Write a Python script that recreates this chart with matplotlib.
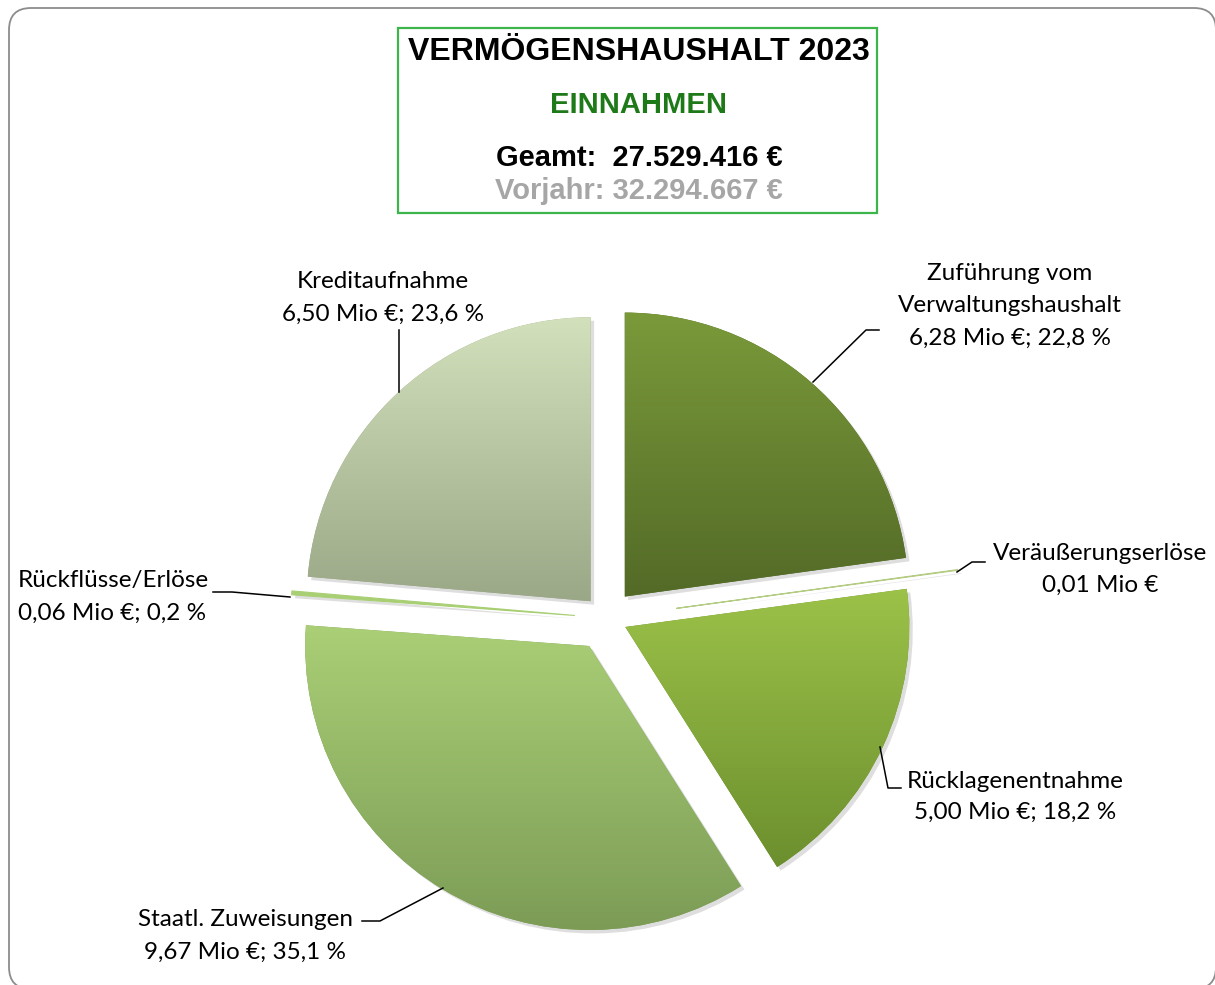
import matplotlib
matplotlib.use("Agg")
import matplotlib.pyplot as plt
import numpy as np
from matplotlib.patches import FancyBboxPatch, Rectangle
from matplotlib import patheffects as pe
from matplotlib.colors import to_rgb

# ---------------- data ----------------
categories = ["Zuführung vom\nVerwaltungshaushalt", "Veräußerungserlöse", "Rücklagenentnahme",
              "Staatl. Zuweisungen", "Rückflüsse/Erlöse", "Kreditaufnahme"]
values_mio = [6.28, 0.01, 5.00, 9.67, 0.06, 6.50]
show_pct = [True, False, True, True, True, True]
title = "VERMÖGENSHAUSHALT 2023"
subtitle = "EINNAHMEN"
total_text = "Geamt:  27.529.416 €"
prev_text = "Vorjahr: 32.294.667 €"

# styles
explode = [0.10, 0.25, 0.075, 0.115, 0.11, 0.08]
grad_top = ["#7A9A3A", "#B5CC85", "#9CC249", "#AACF76", "#A9CF74", "#D3E0BC"]
grad_bot = ["#536A27", "#B5CC85", "#6C8F2E", "#7C9C56", "#A9CF74", "#9AA887"]

W, H = 1215, 985
fig = plt.figure(figsize=(W / 100, H / 100), dpi=100)

# pie axes: radius 1 = 284 px
cx, cy, R = 606, 618, 284
ax = fig.add_axes([0, 0, 1, 1])
total = sum(values_mio)
wedges, _ = ax.pie(values_mio, explode=explode, startangle=90, counterclock=False,
                   radius=1, colors=grad_bot,
                   wedgeprops=dict(linewidth=0))
ax.set_aspect("auto")
ax.axis("off")

for i, w in enumerate(wedges):
    w.set_path_effects([pe.SimplePatchShadow(offset=(2.5, -2.5), shadow_rgbFace="#8A8A8A", alpha=0.28),
                        pe.Normal()])
    if values_mio[i] / total < 0.01:
        w.set_edgecolor(grad_bot[i])
        w.set_linewidth(0.8)
        continue
    verts = w.get_path().vertices
    x0, x1 = verts[:, 0].min(), verts[:, 0].max()
    y0, y1 = verts[:, 1].min(), verts[:, 1].max()
    t = np.linspace(0, 1, 256)[:, None]
    top = np.array(to_rgb(grad_top[i]))
    bot = np.array(to_rgb(grad_bot[i]))
    img = (top[None, :] * (1 - t) + bot[None, :] * t)[:, None, :].repeat(2, axis=1)
    im = ax.imshow(img, extent=(x0, x1, y0, y1), origin="upper", aspect="auto",
                   interpolation="bilinear", zorder=w.get_zorder() + 0.5)
    im.set_clip_path(w)

ax.set_xlim(-cx / R, (W - cx) / R)
ax.set_ylim(-(H - cy) / R, cy / R)

# overlay axes in pixel coordinates
ov = fig.add_axes([0, 0, 1, 1], facecolor="none")
ov.set_xlim(0, W)
ov.set_ylim(H, 0)
ov.axis("off")

# outer frame (display pixel coordinates, y up)
frame = FancyBboxPatch((9, -4), 1207, 981, boxstyle="round,pad=0,rounding_size=22",
                       fill=False, edgecolor="#8C8C8C", linewidth=1.3, transform=None)
fig.add_artist(frame)

# title box
ov.add_patch(Rectangle((398, 28), 479, 185, fill=False, edgecolor="#3DB54A", linewidth=1.6))
bold = dict(family="Liberation Sans", weight="bold", ha="center", va="center")
ov.text(639, 52, title, fontsize=23, color="black", **bold)
ov.text(639, 105, subtitle, fontsize=21, color="#1E7A18", **bold)
ov.text(639, 158, total_text, fontsize=21, color="black", **bold)
ov.text(639, 191, prev_text, fontsize=21, color="#A6A6A6", **bold)


def fmt(v):
    return f"{v:.2f}".replace(".", ",")


def label_lines(i):
    v = values_mio[i]
    line2 = f"{fmt(v)} Mio €"
    if show_pct[i]:
        line2 += f"; {v / total * 100:.1f}".replace(".", ",") + " %"
    return categories[i].split("\n") + [line2]


lab = dict(family="Lato", fontsize=17.5, color="black", va="center")
# label positions (px): (x, first line y, line spacing, ha)
label_pos = [(1010, 274, 32, "center"), (1100, 553, 32, "center"), (1015, 781, 31, "center"),
             (245, 920, 32, "center"), (18, 581, 32, "left"), (383, 282, 32, "center")]
for i, (lx, ly, dy, ha) in enumerate(label_pos):
    for k, line in enumerate(label_lines(i)):
        ov.text(lx, ly + k * dy, line, ha=ha, **lab)

# leader lines
leaders = [
    [(813, 382), (866, 330), (879, 330)],
    [(957, 572), (972, 562), (985, 562)],
    [(880, 747), (888, 788), (901, 788)],
    [(443, 888), (380, 921), (362, 921)],
    [(290, 597), (232, 592), (213, 592)],
    [(399, 392), (399, 330)],
]
for pts in leaders:
    xs, ys = zip(*pts)
    ov.plot(xs, ys, color="black", linewidth=1.1)

fig.savefig("out.png", dpi=100, facecolor="white")
